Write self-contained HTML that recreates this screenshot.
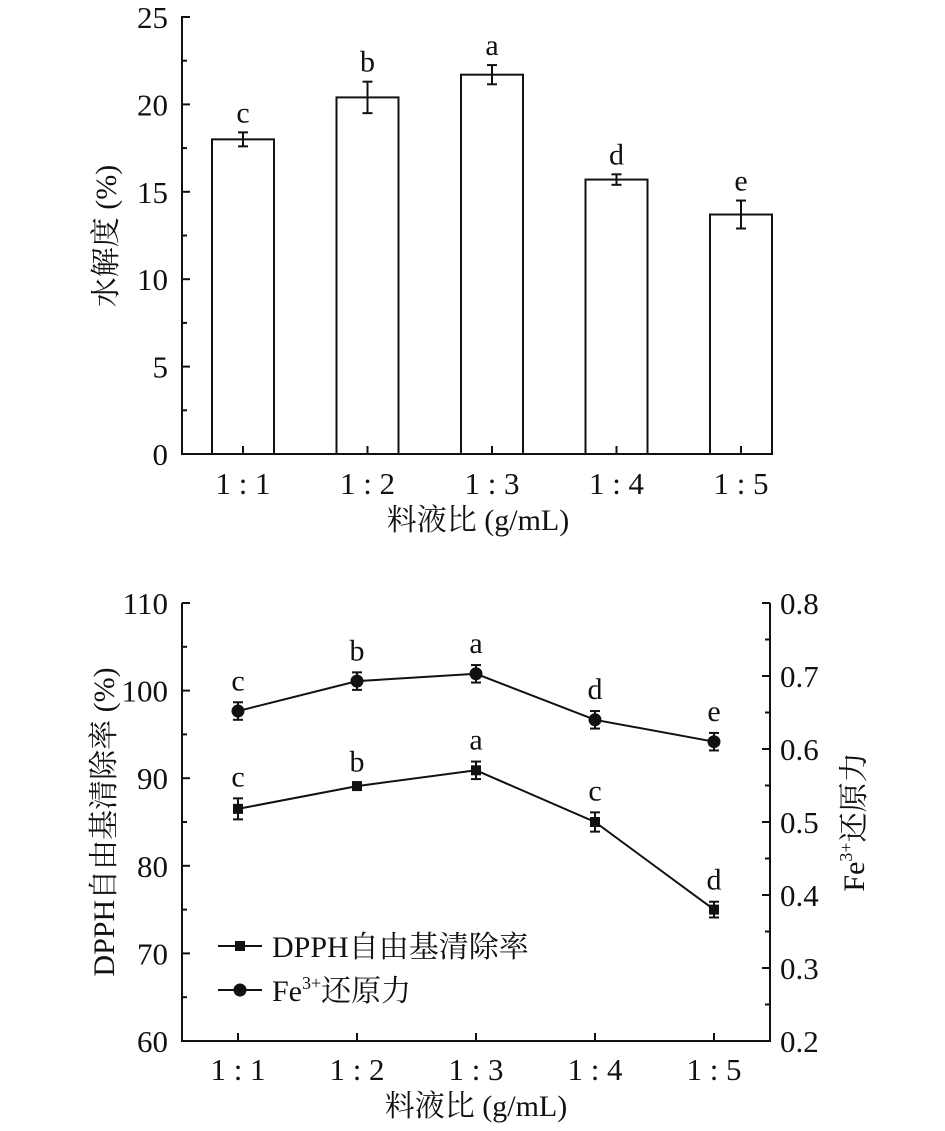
<!DOCTYPE html>
<html><head><meta charset="utf-8"><style>
body{margin:0;background:#fff}
svg text{font-family:"Liberation Serif","Noto Serif CJK SC",serif;fill:#111}
</style></head><body>
<svg id="s" width="945" height="1126" xmlns="http://www.w3.org/2000/svg"></svg>
<script>
const categories=["1:1","1:2","1:3","1:4","1:5"];
const hydro=[18.0,20.4,21.7,15.7,13.7];
const hydroErr=[0.4,0.9,0.55,0.3,0.8];
const hydroLetters=["c","b","a","d","e"];
const hydroTicks=[0,5,10,15,20,25];
const dpph=[86.5,89.1,90.9,85.0,75.0];
const dpphErr=[1.2,0.3,1.0,1.1,0.9];
const dpphLetters=["c","b","a","c","d"];
const fe=[0.652,0.693,0.703,0.640,0.610];
const feErr=[0.012,0.012,0.012,0.012,0.012];
const feLetters=["c","b","a","d","e"];
const leftTicks=[60,70,80,90,100,110];
const rightTicks=[0.2,0.3,0.4,0.5,0.6,0.7,0.8];

const S=document.getElementById('s');const NS="http://www.w3.org/2000/svg";
function el(t,a,txt){const e=document.createElementNS(NS,t);for(const k in a)e.setAttribute(k,a[k]);if(txt!==undefined)e.textContent=txt;S.appendChild(e);return e;}
function line(x1,y1,x2,y2,w,name){const e=el('line',{x1,y1,x2,y2,stroke:'#111','stroke-width':w||2});return e;}
function text(x,y,s,size,name,anchor){const e=el('text',{x,y,'font-size':size,'text-anchor':anchor||'middle'},s);return e;}

// ---- top chart
const tY=v=>454-v*(437/25);const tX=i=>243+i*124.5;
line(182,16,182,455,2,'top-y-axis');line(181,454,773,454,2,'top-x-axis');
hydroTicks.forEach(v=>{line(182,tY(v),190,tY(v),2,'top-y-tick');text(168,tY(v)+11,String(v),31,'top-y-tick-label','end');
 if(v<25)line(182,tY(v+2.5),187,tY(v+2.5),2,'top-y-minor-tick');});
categories.forEach((c,i)=>{
 const x=tX(i),v=hydro[i],e=hydroErr[i];
 const r=el('rect',{x:x-31,y:tY(v),width:62,height:tY(0)-tY(v),fill:'#fff',stroke:'#111','stroke-width':2});
 
 line(x,tY(v+e),x,tY(v-e),2,'error-bar');line(x-5,tY(v+e),x+5,tY(v+e),2,'error-cap');line(x-5,tY(v-e),x+5,tY(v-e),2,'error-cap');
 text(x,tY(v+e)-10,hydroLetters[i],30,'significance-letter');
 line(x,454,x,446,2,'top-x-tick');
 text(x,494,c.replace(':',' : '),31,'top-x-tick-label');
});
const ty=text(0,0,'水解度 (%)',30,'top-y-axis-title');ty.setAttribute('transform','translate(116,236) rotate(-90)');
text(478,530,'料液比 (g/mL)',30,'top-x-axis-title');

// ---- bottom chart
const bTop=603,bBot=1041;
const lY=v=>bBot-(v-60)*(bBot-bTop)/50;const rY=v=>bBot-(v-0.2)*(bBot-bTop)/0.6;const bX=i=>238+i*119;
line(182,bTop,182,bBot+1,2,'left-y-axis');line(770,bTop,770,bBot+1,2,'right-y-axis');line(181,bBot,771,bBot,2,'bottom-x-axis');
leftTicks.forEach(v=>{line(182,lY(v),190,lY(v),2,'left-y-tick');text(168,lY(v)+11,String(v),31,'left-y-tick-label','end');
 if(v<110)line(182,lY(v+5),187,lY(v+5),2,'left-y-minor-tick');});
rightTicks.forEach(v=>{line(762,rY(v),770,rY(v),2,'right-y-tick');text(780,rY(v)+11,v.toFixed(1),31,'right-y-tick-label','start');
 if(v<0.75)line(765,rY(v+0.05),770,rY(v+0.05),2,'right-y-minor-tick');});
categories.forEach((c,i)=>{line(bX(i),bBot,bX(i),bBot-8,2,'bottom-x-tick');text(bX(i),1080,c.replace(':',' : '),31,'bottom-x-tick-label');});
function series(vals,errs,letters,yf,marker,name){
 const p=el('polyline',{points:vals.map((v,i)=>bX(i)+','+yf(v)).join(' '),fill:'none',stroke:'#111','stroke-width':2});
 
 vals.forEach((v,i)=>{const x=bX(i),e=errs[i];
  line(x,yf(v+e),x,yf(v-e),2,'error-bar');line(x-5,yf(v+e),x+5,yf(v+e),2,'error-cap');line(x-5,yf(v-e),x+5,yf(v-e),2,'error-cap');
  let m;if(marker==='sq')m=el('rect',{x:x-5,y:yf(v)-5,width:10,height:10,fill:'#111'});else m=el('circle',{cx:x,cy:yf(v),r:6.5,fill:'#111'});
  
  text(x,yf(v+e)-12,letters[i],30,'significance-letter');});
}
series(dpph,dpphErr,dpphLetters,lY,'sq','dpph');
series(fe,feErr,feLetters,rY,'ci','fe');
// legend
line(218,946,262,946,2,'legend-dpph-line');const lr=el('rect',{x:235,y:941,width:10,height:10,fill:'#111'});
text(272,957,'DPPH自由基清除率',30,'legend-dpph-label','start');
line(218,990,262,990,2,'legend-fe-line');const lc=el('circle',{cx:240,cy:990,r:6.5,fill:'#111'});
const lt=el('text',{x:272,y:1001,'font-size':30,'text-anchor':'start'});
lt.innerHTML='Fe<tspan font-size="18" dy="-12">3+</tspan><tspan dy="12">还原力</tspan>';
const ly=text(0,0,'DPPH自由基清除率 (%)',30,'left-y-axis-title');ly.setAttribute('transform','translate(114,822) rotate(-90)');
const ry=el('text',{'font-size':30,'text-anchor':'middle',transform:'translate(864,822) rotate(-90)'});
ry.innerHTML='Fe<tspan font-size="18" dy="-12">3+</tspan><tspan dy="12">还原力</tspan>';
text(476,1116,'料液比 (g/mL)',30,'bottom-x-axis-title');
</script>
</body></html>
